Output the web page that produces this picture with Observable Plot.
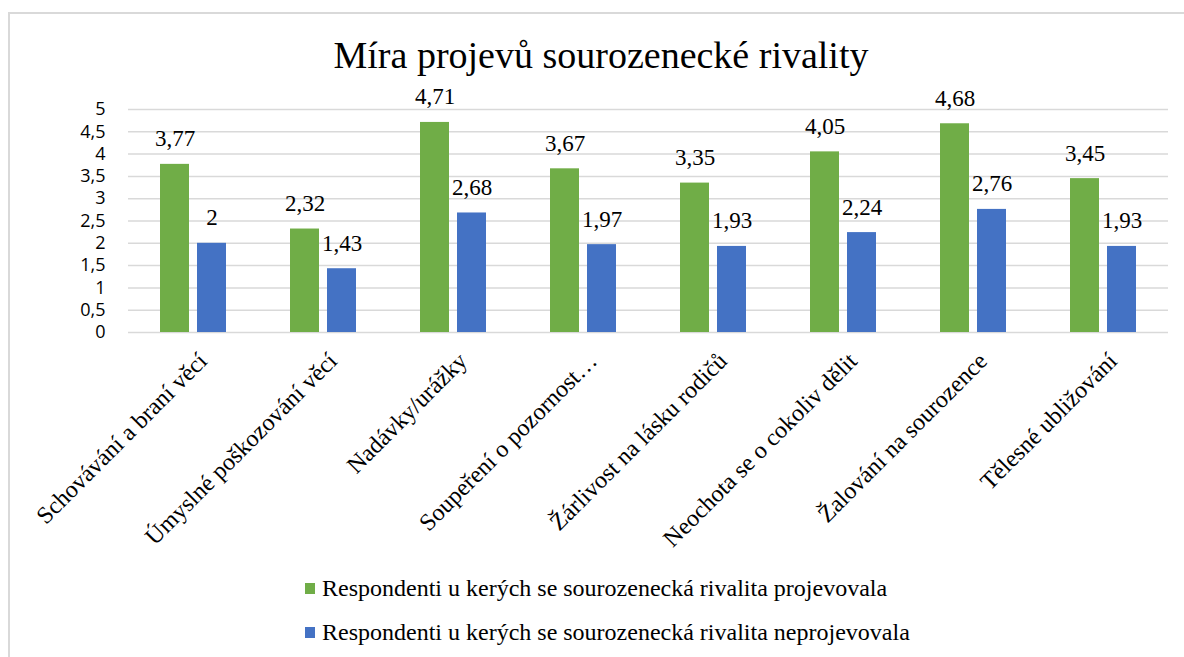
<!DOCTYPE html>
<html>
<head>
<meta charset="utf-8">
<script src="https://cdn.jsdelivr.net/npm/d3@7"></script>
<script src="https://cdn.jsdelivr.net/npm/@observablehq/plot@0.6"></script>
<style>
  html, body { margin: 0; padding: 0; background: #fff; }
  body { width: 1184px; height: 657px; overflow: hidden; position: relative; }
  #frame { position: absolute; left: 8px; top: 12px; width: 1200px; height: 700px; border: 2px solid #d9d9d9; box-sizing: border-box; }
  #title { position: absolute; left: 601px; top: 35px; transform: translateX(-50%); white-space: nowrap;
           font-family: "Liberation Serif", "Times New Roman", serif; font-size: 38px; line-height: 40px; color: #000; }
  #chart { position: absolute; left: 0; top: 60px; }
  #chart svg text { font-family: "Liberation Serif", "Times New Roman", serif !important; fill: #000; }
  #chart svg [aria-label^="y-axis"] text { font-family: "Open Sans", sans-serif !important; font-size: 18px; fill: #000; }
  #legend { position: absolute; left: 305px; top: 566px; font-family: "Liberation Serif", "Times New Roman", serif; font-size: 24px; color: #000; }
  .item { display: flex; align-items: center; height: 44px; white-space: nowrap; }
  .sw { width: 10px; height: 11px; margin-right: 7px; flex: none; }
</style>
</head>
<body>
<div id="frame"></div>
<div id="title">Míra projevů sourozenecké rivality</div>
<div id="chart"></div>
<div id="legend"></div>
<script>
const categories = [
  "Schovávání a braní věcí",
  "Úmyslné poškozování věcí",
  "Nadávky/urážky",
  "Soupeření o pozornost…",
  "Žárlivost na lásku rodičů",
  "Neochota se o cokoliv dělit",
  "Žalování na sourozence",
  "Tělesné ubližování"
];
const projevovala = [3.77, 2.32, 4.71, 3.67, 3.35, 4.05, 4.68, 3.45];
const neprojevovala = [2, 1.43, 2.68, 1.97, 1.93, 2.24, 2.76, 1.93];
const seriesNames = [
  "Respondenti u kerých se sourozenecká rivalita projevovala",
  "Respondenti u kerých se sourozenecká rivalita neprojevovala"
];
const colors = ["#70AD47", "#4472C4"];
const yTicks = [0, 0.5, 1, 1.5, 2, 2.5, 3, 3.5, 4, 4.5, 5];

const serif = "'Liberation Serif', 'Times New Roman', serif";
const comma = v => String(v).replace(".", ",");
const data = categories.map((c, i) => ({cat: c, a: projevovala[i], b: neprojevovala[i]}));

const chart = Plot.plot({
  width: 1184,
  height: 530,
  marginLeft: 128,
  marginRight: 16,
  marginTop: 49,
  marginBottom: 258,
  style: {background: "transparent"},
  x: {domain: categories, padding: 0, axis: null},
  y: {domain: [0, 5], ticks: yTicks, tickFormat: comma, tickSize: 0, tickPadding: 23, label: null},
  marks: [
    Plot.ruleY(yTicks, {stroke: "#d9d9d9", strokeWidth: 1.5}),
    Plot.barY(data, {x: "cat", y: "a", fill: colors[0], insetLeft: 32, insetRight: 69}),
    Plot.barY(data, {x: "cat", y: "b", fill: colors[1], insetLeft: 69, insetRight: 32}),
    Plot.text(data, {x: "cat", y: "a", text: d => comma(d.a), dx: -18.5, dy: -18, lineAnchor: "bottom",
      fontFamily: serif, fontSize: 23, fill: "#000"}),
    Plot.text(data, {x: "cat", y: "b", text: d => comma(d.b), dx: 18.5, dy: -18, lineAnchor: "bottom",
      fontFamily: serif, fontSize: 23, fill: "#000"}),
    Plot.text(categories, {x: d => d, frameAnchor: "bottom", rotate: -45, textAnchor: "end", lineAnchor: "top",
      dx: 3, dy: 18, fontFamily: serif, fontSize: 24, fill: "#000"})
  ]
});
document.getElementById("chart").appendChild(chart);

const legend = document.getElementById("legend");
seriesNames.forEach((name, i) => {
  const item = document.createElement("div");
  item.className = "item";
  const sw = document.createElement("span");
  sw.className = "sw";
  sw.style.background = colors[i];
  const t = document.createElement("span");
  t.textContent = name;
  item.appendChild(sw);
  item.appendChild(t);
  legend.appendChild(item);
});
</script>
</body>
</html>
